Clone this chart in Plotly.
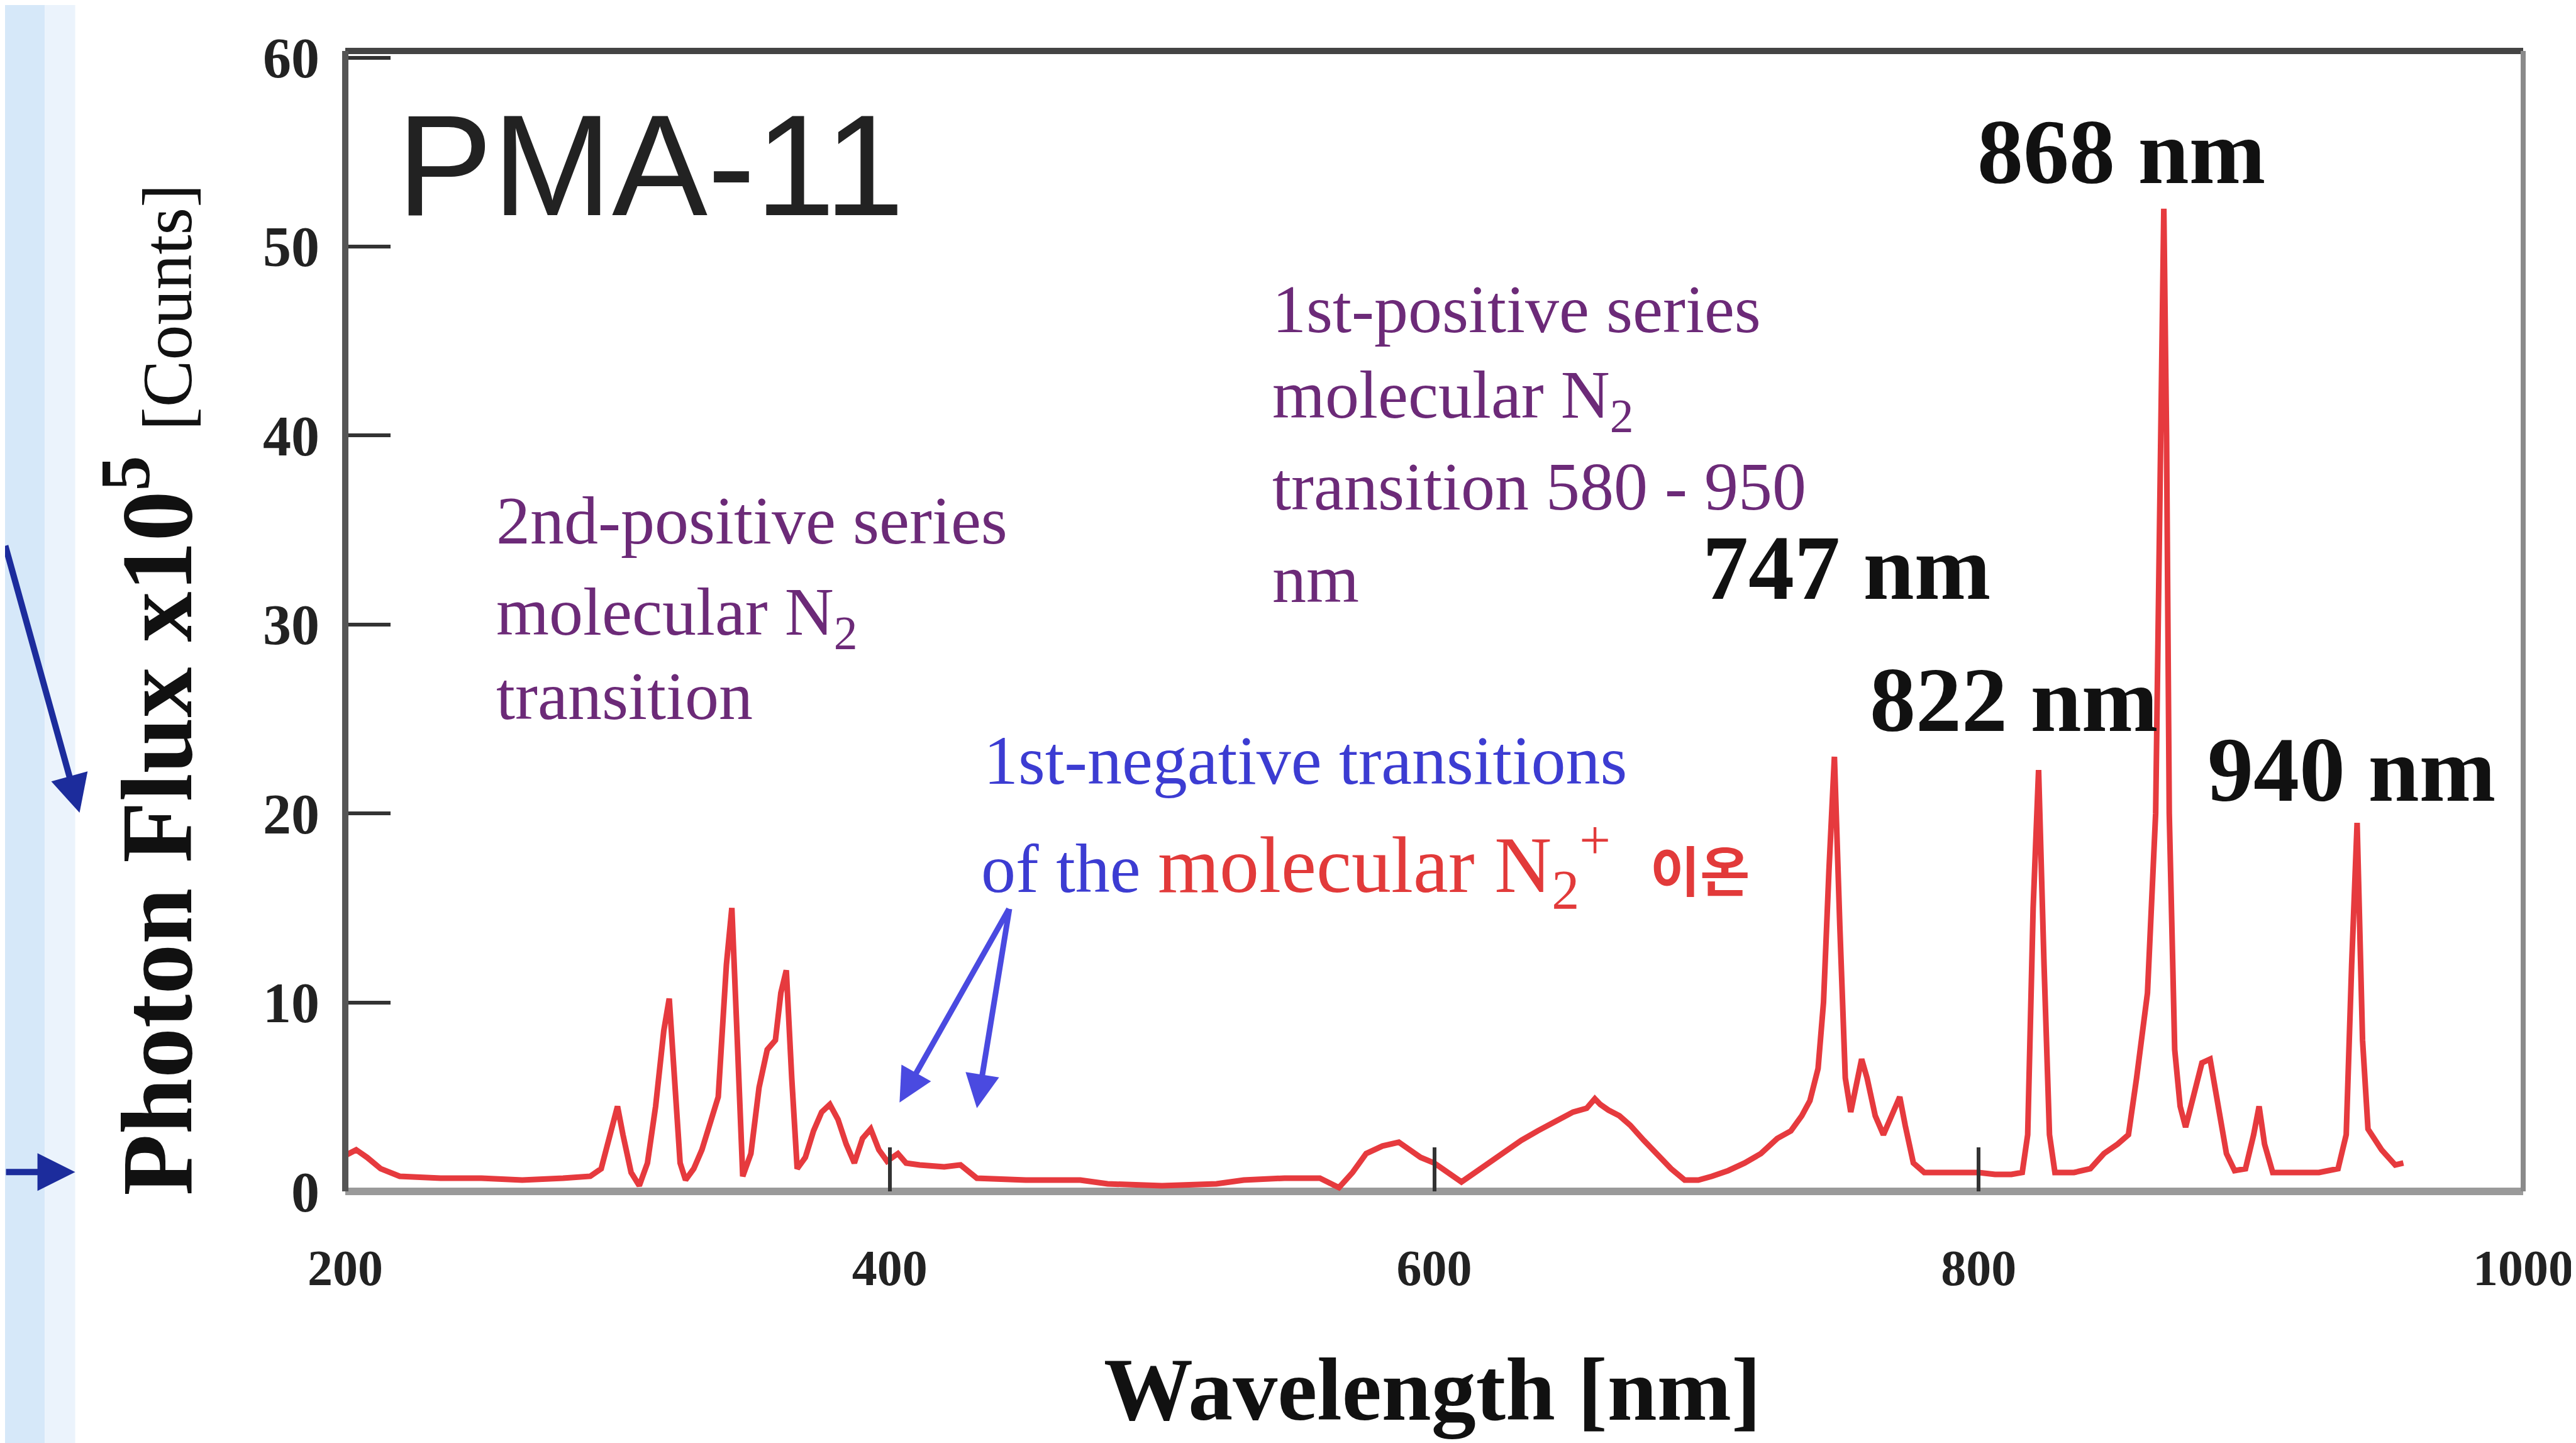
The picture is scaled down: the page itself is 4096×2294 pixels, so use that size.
import plotly.graph_objects as go

# ---- data ----
wavelength_nm = [200, 204, 208, 213, 220, 235, 250, 265, 280, 290, 294, 297, 300, 302, 305, 308,
                 311, 314, 317, 319, 321, 323, 325, 328, 331, 334, 337, 340, 342, 344, 346, 349,
                 352, 355, 358, 360, 362, 364, 366, 369, 372, 375, 378, 381, 384, 387, 390, 393,
                 396, 399, 403, 406, 411, 420, 426, 432, 450, 470, 480, 500, 520, 530, 545, 558,
                 565, 570, 575, 581, 587, 591, 595, 600, 605, 610, 614, 618, 625, 632, 638, 645,
                 651, 656, 659, 661, 664, 668, 672, 677, 681, 687, 692, 697, 702, 708, 714, 720,
                 726, 731, 735, 738, 741, 743, 745, 747, 749, 751, 753, 755, 757, 759, 762, 765,
                 768, 771, 773, 776, 780, 790, 800, 806, 812, 816, 818, 820, 822, 824, 826, 828,
                 835, 841, 846, 851, 855, 858, 862, 865, 867, 868, 869, 870, 872, 874, 876, 879,
                 882, 885, 888, 891, 894, 898, 901, 903, 905, 908, 915, 925, 932, 935, 937, 939,
                 941, 943, 948, 953, 956]
photon_flux = [1.9, 2.2, 1.8, 1.2, 0.8, 0.7, 0.7, 0.6, 0.7, 0.8, 1.2, 3.0, 4.5, 3.0, 1.0, 0.3,
               1.5, 4.5, 8.5, 10.2, 6.0, 1.5, 0.6, 1.2, 2.2, 3.5, 5.0, 12.0, 15.0, 8.0, 0.8, 2.0,
               5.5, 7.5, 8.0, 10.5, 11.7, 6.0, 1.2, 1.8, 3.2, 4.2, 4.6, 3.8, 2.5, 1.5, 2.8, 3.3,
               2.2, 1.6, 2.0, 1.5, 1.4, 1.3, 1.4, 0.7, 0.6, 0.6, 0.4, 0.3, 0.4, 0.6, 0.7, 0.7,
               0.2, 1.0, 2.0, 2.4, 2.6, 2.2, 1.8, 1.5, 1.0, 0.5, 0.9, 1.3, 2.0, 2.7, 3.2, 3.7,
               4.2, 4.4, 4.9, 4.6, 4.3, 4.0, 3.5, 2.7, 2.1, 1.2, 0.6, 0.6, 0.8, 1.1, 1.5, 2.0,
               2.8, 3.2, 4.0, 4.8, 6.5, 10.0, 17.0, 23.0, 14.0, 6.0, 4.2, 5.5, 7.0, 6.0, 4.0, 3.0,
               4.0, 5.0, 3.5, 1.5, 1.0, 1.0, 1.0, 0.9, 0.9, 1.0, 3.0, 15.0, 22.3, 12.0, 3.0, 1.0,
               1.0, 1.2, 2.0, 2.5, 3.0, 6.0, 10.5, 20.0, 40.0, 52.0, 40.0, 20.0, 7.5, 4.5, 3.4, 5.0,
               6.8, 7.0, 4.5, 2.0, 1.1, 1.2, 3.0, 4.5, 2.5, 1.0, 1.0, 1.0, 1.2, 3.0, 12.0, 19.5,
               8.0, 3.3, 2.2, 1.4, 1.5]

x_ticks = [200, 400, 600, 800, 1000]
y_ticks = [0, 10, 20, 30, 40, 50, 60]

peak_labels = ["868 nm", "747 nm", "822 nm", "940 nm"]

SERIF = "Liberation Serif, Times New Roman, serif"
SERIF_KR = "Liberation Serif, Noto Sans CJK KR, serif"
SANS = "Liberation Sans, Arial, sans-serif"
PURPLE = "#6c2a78"
BLUE = "#3c3cd2"
RED = "#e23a3a"

fig = go.Figure()
fig.add_trace(go.Scatter(x=wavelength_nm, y=photon_flux, mode="lines",
                         line=dict(color="#e63a3e", width=9), showlegend=False,
                         hoverinfo="skip"))

W, H = 4096, 2294
ML, MR, MT, MB = 541, 86, 73, 408

fig.update_layout(
    width=W, height=H,
    margin=dict(l=ML, r=MR, t=MT, b=MB),
    paper_bgcolor="white", plot_bgcolor="white",
    showlegend=False,
)
fig.update_xaxes(range=[200, 1000], tickvals=x_ticks,
                 ticktext=["<b>%d</b>" % v for v in x_ticks],
                 ticks="inside", ticklen=70, tickwidth=6, tickcolor="#333",
                 showgrid=False, zeroline=False, showline=False,
                 tickfont=dict(family=SERIF, size=80, color="#222"),
                 ticklabelstandoff=68)
fig.update_yaxes(range=[0, 60.35], tickvals=y_ticks,
                 ticktext=["<b>%d</b>" % v for v in y_ticks],
                 ticks="inside", ticklen=72, tickwidth=6, tickcolor="#333",
                 showgrid=False, zeroline=False, showline=False,
                 tickfont=dict(family=SERIF, size=90, color="#222"),
                 ticklabelstandoff=40)

# frame
fig.add_shape(type="line", xref="x domain", yref="y domain", x0=0, x1=1, y0=1, y1=1,
              line=dict(color="#444", width=10))
fig.add_shape(type="line", xref="x domain", yref="y domain", x0=0, x1=0, y0=0, y1=1,
              line=dict(color="#555", width=10))
fig.add_shape(type="line", xref="x domain", yref="y domain", x0=1, x1=1, y0=0, y1=1,
              line=dict(color="#8a8a8a", width=8))
fig.add_shape(type="line", xref="x domain", yref="y domain", x0=0, x1=1, y0=0, y1=0,
              line=dict(color="#9a9a9a", width=12), layer="below")

# light blue strip at the left edge of the slide
fig.add_shape(type="rect", xref="paper", yref="paper", x0=-0.16, x1=-0.138, y0=-0.3, y1=1.1,
              fillcolor="#d6e8f9", line=dict(width=0), layer="below")
fig.add_shape(type="rect", xref="paper", yref="paper", x0=-0.138, x1=-0.124, y0=-0.3, y1=1.1,
              fillcolor="#ebf3fc", line=dict(width=0), layer="below")

ann = []
# panel label
ann.append(dict(x=218.5, y=54.3, xref="x", yref="y", text="PMA-11", showarrow=False,
                xanchor="left", yanchor="middle",
                font=dict(family=SANS, size=228, color="#222")))
# peak labels
peak_pos = [(799, 55.0), (698.0, 33.0), (759.5, 26.0), (883.5, 22.3)]
for lab, (px, py) in zip(peak_labels, peak_pos):
    ann.append(dict(x=px, y=py, xref="x", yref="y", text="<b>%s</b>" % lab, showarrow=False,
                    xanchor="left", yanchor="middle",
                    font=dict(family=SERIF, size=146, color="#111")))
# 2nd positive series
for txt, yy in [("2nd-positive series", 35.5), ("molecular N<sub>2</sub>", 30.4),
                ("transition", 26.2)]:
    ann.append(dict(x=255, y=yy, xref="x", yref="y", text=txt, showarrow=False,
                    xanchor="left", yanchor="middle",
                    font=dict(family=SERIF, size=108, color=PURPLE)))
# 1st positive series
for txt, yy in [("1st-positive series", 46.7), ("molecular N<sub>2</sub>", 41.9),
                ("transition 580 - 950", 37.3), ("nm", 32.4)]:
    ann.append(dict(x=540, y=yy, xref="x", yref="y", text=txt, showarrow=False,
                    xanchor="left", yanchor="middle",
                    font=dict(family=SERIF, size=108, color=PURPLE)))
# 1st negative
ann.append(dict(x=434, y=22.8, xref="x", yref="y", text="1st-negative transitions",
                showarrow=False, xanchor="left", yanchor="middle",
                font=dict(family=SERIF, size=110, color=BLUE)))
ann.append(dict(x=433, y=17.3, xref="x", yref="y",
                text=("of the <span style='font-size:126px;color:%s'>molecular N<sub>2</sub>"
                      "<sup>+</sup>  <span style='font-size:86px'><b>이온</b></span></span>") % RED,
                showarrow=False, xanchor="left", yanchor="middle",
                font=dict(family=SERIF_KR, size=110, color=BLUE)))
# blue arrows in plot
for hx, hy in [(403.6, 4.7), (432.0, 4.4)]:
    ann.append(dict(x=hx, y=hy, xref="x", yref="y", ax=444, ay=15.0, axref="x", ayref="y",
                    text="", showarrow=True, arrowhead=2, arrowsize=1.2, arrowwidth=9,
                    arrowcolor="#4a4ae0"))
# arrows outside the plot on the left
ann.append(dict(x=-0.122, y=0.332, xref="paper", yref="paper", ax=-140, ay=-426,
                text="", showarrow=True, arrowhead=2, arrowsize=1.2, arrowwidth=10,
                arrowcolor="#1c2c9c"))
ann.append(dict(x=-0.124, y=0.017, xref="paper", yref="paper", ax=-130, ay=0,
                text="", showarrow=True, arrowhead=2, arrowsize=1.2, arrowwidth=10,
                arrowcolor="#1c2c9c"))
# axis titles
ann.append(dict(x=-0.0897, y=0.44, xref="paper", yref="paper", textangle=-90,
                text="<b>Photon Flux x10<sup>5</sup></b> <span style='font-size:112px'>[Counts]</span>",
                showarrow=False, xanchor="center", yanchor="middle",
                font=dict(family=SERIF, size=160, color="#111")))
ann.append(dict(x=0.499, y=-0.174, xref="paper", yref="paper", text="<b>Wavelength [nm]</b>",
                showarrow=False, xanchor="center", yanchor="middle",
                font=dict(family=SERIF, size=142, color="#111")))

fig.update_layout(annotations=ann)
fig.write_html("out.html")
